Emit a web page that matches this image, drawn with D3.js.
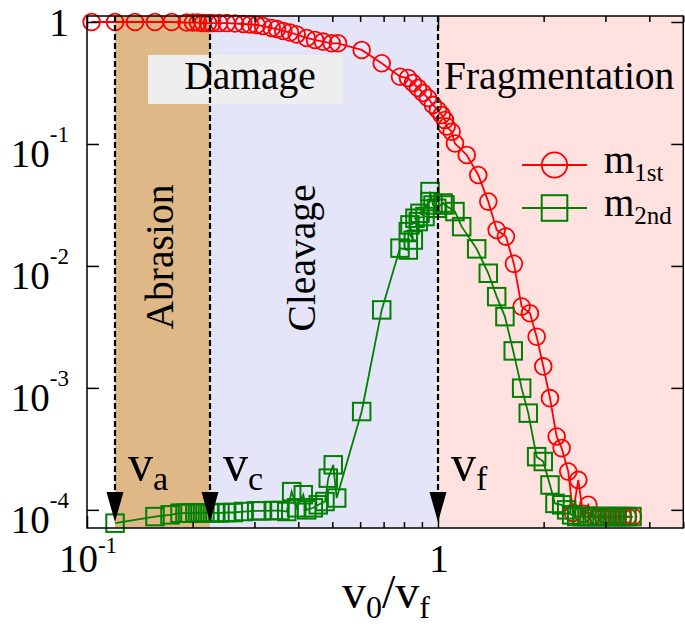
<!DOCTYPE html>
<html><head><meta charset="utf-8">
<script src="https://cdn.jsdelivr.net/npm/d3@7"></script>
<style>
body{margin:0;background:#fff}
svg{display:block}
text{font-family:"Liberation Serif","Times New Roman",serif;fill:#000}
</style>
</head><body><svg id="c" width="685" height="631"></svg>
<script>
// ---- data ----
const m1V = [0.1031,0.1202,0.1370,0.1562,0.1743,0.1923,0.2004,0.2071,0.2141,0.2212,0.2271,0.2377,0.2500,0.2641,0.2789,0.2913,0.3044,0.3173,0.3359,0.3478,0.3625,0.3787,0.3957,0.4226,0.4463,0.4704,0.4980,0.5190,0.6062,0.6914,0.7795,0.8215,0.8490,0.8770,0.9064,0.9365,0.9678,1.0,1.0245,1.0469,1.0587,1.0940,1.1180,1.2075,1.3024,1.3911,1.4698,1.5615,1.6458,1.7314,1.8283,1.9105,1.9953,2.0849,2.1787,2.2512,2.3508,2.4245,2.5102,2.5890,2.6808,2.765,2.856,2.952,3.050,3.151,3.257,3.365,3.477,3.593];
const m1M = [1,1,1,1,1,0.991,0.99,0.99,0.981,0.98,0.98,0.98,0.98,0.972,0.963,0.954,0.945,0.927,0.893,0.876,0.844,0.820,0.790,0.740,0.712,0.690,0.669,0.669,0.590,0.459,0.356,0.347,0.316,0.288,0.262,0.238,0.209,0.190,0.173,0.157,0.139,0.126,0.101,0.0813,0.0557,0.0337,0.0197,0.0174,0.0104,0.00464,0.00409,0.00263,0.00150,0.000824,0.000399,0.000321,0.000206,0.0000945,0.000176,0.0000927,0.000110,0.0000893,0.0000877,0.0000877,0.0000877,0.0000877,0.0000877,0.0000877,0.0000877,0.0000877];
const m2V = [0.1202,0.1562,0.1724,0.1841,0.1902,0.1965,0.2030,0.2099,0.2168,0.2240,0.2315,0.2392,0.2500,0.2611,0.2789,0.3044,0.3146,0.3395,0.3547,0.3708,0.3830,0.3957,0.4133,0.4226,0.4413,0.4560,0.4765,0.4869,0.5031,0.5145,0.6062,0.6914,0.7795,0.8231,0.8231,0.8506,0.8322,0.8788,0.8600,0.9183,0.8886,0.9490,0.9490,0.9678,0.9915,1.0333,1.0469,1.1180,1.1683,1.2891,1.3911,1.4698,1.5515,1.6383,1.7314,1.8082,1.9105,1.9953,2.0849,2.1544,2.2512,2.3263,2.4036,2.4843,2.572,2.658,2.747,2.838,2.933,3.030,3.131,3.236,3.343,3.455,3.570];
const m2M = [7.78e-5,8.81e-5,9.10e-5,9.39e-5,9.39e-5,9.39e-5,9.45e-5,9.45e-5,9.45e-5,9.45e-5,9.45e-5,9.45e-5,9.51e-5,9.51e-5,9.69e-5,9.82e-5,9.82e-5,9.87e-5,9.87e-5,9.69e-5,1.41e-4,1.04e-4,1.33e-4,1.0e-4,1.04e-4,1.10e-4,1.17e-4,1.82e-4,2.34e-4,1.25e-4,6.40e-4,4.36e-3,0.0140,0.0135,0.0191,0.0163,0.0217,0.0231,0.0246,0.0254,0.0270,0.0337,0.0407,0.0316,0.0297,0.0328,0.0316,0.0279,0.0210,0.0138,0.00871,0.00560,0.00384,0.00201,0.000995,0.000621,0.000273,0.000249,0.000160,0.000113,0.000110,0.0001,9.10e-5,8.81e-5,8.81e-5,8.81e-5,8.81e-5,8.81e-5,8.81e-5,8.81e-5,8.81e-5,8.81e-5,8.81e-5,8.81e-5,8.81e-5];
const seriesNames = [["m","1st"],["m","2nd"]];
const seriesColors = ["#ff0000","#008000"];
const vA = 0.12, vC = 0.224, vF = 1;
const regionNames = ["Abrasion","Cleavage","Fragmentation","Damage"];
const speedLabels = [["v","a",vA],["v","c",vC],["v","f",vF]];
const xMajor = [0.1, 1];
const xMajorLabels = [["10","-1"],["1",""]];
const xMinor = [0.2,0.3,0.4,0.5,0.6,0.7,0.8,0.9,2,3,4,5];
const yMajor = [1e-4,1e-3,1e-2,1e-1,1];
const yMajorLabels = [["10","-4"],["10","-3"],["10","-2"],["10","-1"],["1",""]];

// ---- layout ----
const svg = d3.select("#c");
const L=87, R=683.3, T=16, B=528;
const x = d3.scaleLog().domain([0.1,5]).range([L,R]);
const y = d3.scaleLog().domain([7.1e-5,1.12]).range([B,T]);

// region backgrounds
svg.append("rect").attr("x",x(vA)).attr("y",T).attr("width",x(vC)-x(vA)).attr("height",B-T).attr("fill","#deb887");
svg.append("rect").attr("x",x(vC)).attr("y",T).attr("width",x(vF)-x(vC)).attr("height",B-T).attr("fill","#e5e5f9");
svg.append("rect").attr("x",x(vF)).attr("y",T).attr("width",R-x(vF)).attr("height",B-T).attr("fill","#ffe2e0");

// Damage box + region labels
svg.append("rect").attr("x",148).attr("y",55).attr("width",195).attr("height",49).attr("fill","#eeeeee");
svg.append("text").attr("x",250).attr("y",89).attr("text-anchor","middle").style("font-size","39.5px").text(regionNames[3]);
svg.append("text").attr("x",444).attr("y",89).style("font-size","39.5px").text(regionNames[2]);
svg.append("text").attr("transform","translate(173,257) rotate(-90)").attr("text-anchor","middle").style("font-size","39.5px").text(regionNames[0]);
svg.append("text").attr("transform","translate(315,258) rotate(-90)").attr("text-anchor","middle").style("font-size","39.5px").text(regionNames[1]);

// data lines
const d1 = m1V.map((v,i)=>[v,m1M[i]]);
const d2 = m2V.map((v,i)=>[v,m2M[i]]);
const line = d3.line().x(d=>x(d[0])).y(d=>y(d[1]));
svg.append("path").attr("d",line(d1)).attr("fill","none").attr("stroke",seriesColors[0]).attr("stroke-width",1.8);
svg.append("path").attr("d",line(d2)).attr("fill","none").attr("stroke",seriesColors[1]).attr("stroke-width",1.8);
svg.append("g").selectAll("circle").data(d1).join("circle")
  .attr("cx",d=>x(d[0])).attr("cy",d=>y(d[1])).attr("r",8.4)
  .attr("fill","none").attr("stroke",seriesColors[0]).attr("stroke-width",1.8);
const sq = 17.5;
svg.append("g").selectAll("rect").data(d2).join("rect")
  .attr("x",d=>x(d[0])-sq/2).attr("y",d=>y(d[1])-sq/2).attr("width",sq).attr("height",sq)
  .attr("fill","none").attr("stroke",seriesColors[1]).attr("stroke-width",2);

// dashed lines + arrows
speedLabels.forEach(([v,sub,val])=>{
  const xx = Math.round(x(val));
  svg.append("line").attr("x1",xx).attr("x2",xx).attr("y1",T).attr("y2",494)
    .attr("stroke","#000").attr("stroke-width",2.2).attr("stroke-dasharray","6,3");
  svg.append("path").attr("d",`M${xx-8.5},492L${xx+8.5},492L${xx},522Z`).attr("fill","#000");
  const t = svg.append("text").attr("x",xx+13).attr("y",480).style("font-size","50px");
  t.append("tspan").text(v);
  t.append("tspan").attr("dy",10).style("font-size","34px").text(sub);
});

// legend
const legY = [165,208];
[0,1].forEach(i=>{
  svg.append("line").attr("x1",522).attr("x2",587).attr("y1",legY[i]).attr("y2",legY[i])
    .attr("stroke",seriesColors[i]).attr("stroke-width",1.8);
  if(i===0){
    svg.append("circle").attr("cx",554.5).attr("cy",legY[i]).attr("r",12.7)
      .attr("fill","none").attr("stroke",seriesColors[i]).attr("stroke-width",1.8);
  } else {
    svg.append("rect").attr("x",554.5-12.8).attr("y",legY[i]-12.8).attr("width",25.6).attr("height",25.6)
      .attr("fill","none").attr("stroke",seriesColors[i]).attr("stroke-width",2);
  }
  const t = svg.append("text").attr("x",604).attr("y",legY[i]+8).style("font-size","39px");
  t.append("tspan").text(seriesNames[i][0]);
  t.append("tspan").attr("dy",8).style("font-size","25px").text(seriesNames[i][1]);
});

// axes (ticks inward)
function styleAxis(g){
  g.select(".domain").remove();
  g.selectAll(".tick line").attr("stroke","#000").attr("stroke-width",1.5);
  g.selectAll(".tick text").remove();
}
const xTicks = xMajor.concat(xMinor);
const gB = svg.append("g").attr("transform",`translate(0,${B})`)
  .call(d3.axisBottom(x).tickValues(xTicks).tickSize(-6).tickFormat(()=>""));
styleAxis(gB);
gB.selectAll(".tick line").filter(d=>xMajor.includes(d)).attr("y2",-12);
const gT = svg.append("g").attr("transform",`translate(0,${T})`)
  .call(d3.axisTop(x).tickValues(xTicks).tickSize(-6).tickFormat(()=>""));
styleAxis(gT);
gT.selectAll(".tick line").filter(d=>xMajor.includes(d)).attr("y2",12);
const gL = svg.append("g").attr("transform",`translate(${L},0)`)
  .call(d3.axisLeft(y).tickValues(yMajor).tickSize(-12).tickFormat(()=>""));
styleAxis(gL);
const gR = svg.append("g").attr("transform",`translate(${R},0)`)
  .call(d3.axisRight(y).tickValues(yMajor).tickSize(-12).tickFormat(()=>""));
styleAxis(gR);

// frame
svg.append("rect").attr("x",L).attr("y",T).attr("width",R-L).attr("height",B-T)
  .attr("fill","none").attr("stroke","#000").attr("stroke-width",1.5);

// tick labels
yMajor.forEach((v,i)=>{
  const [base,exp] = yMajorLabels[i];
  if(exp===""){
    svg.append("text").attr("x",69).attr("y",y(v)+14).attr("text-anchor","end").style("font-size","40px").text(base);
  } else {
    const t = svg.append("text").attr("x",69).attr("y",y(v)+23).attr("text-anchor","end").style("font-size","39px");
    t.append("tspan").text(base);
    t.append("tspan").attr("dy",-25).style("font-size","23px").text(exp);
  }
});
xMajor.forEach((v,i)=>{
  const [base,exp] = xMajorLabels[i];
  const t = svg.append("text").attr("x",x(v)+1).attr("y",572).attr("text-anchor","middle").style("font-size","39px");
  t.append("tspan").text(base);
  if(exp!=="") t.append("tspan").attr("dy",-19).style("font-size","23px").text(exp);
});

// axis title v0/vf
const title = svg.append("text").attr("x",386).attr("y",608).attr("text-anchor","middle").style("font-size","48px");
title.append("tspan").text("v");
title.append("tspan").attr("dy",10).style("font-size","32px").text("0");
title.append("tspan").attr("dy",-10).text("/v");
title.append("tspan").attr("dy",10).style("font-size","32px").text("f");
</script>
</body></html>
